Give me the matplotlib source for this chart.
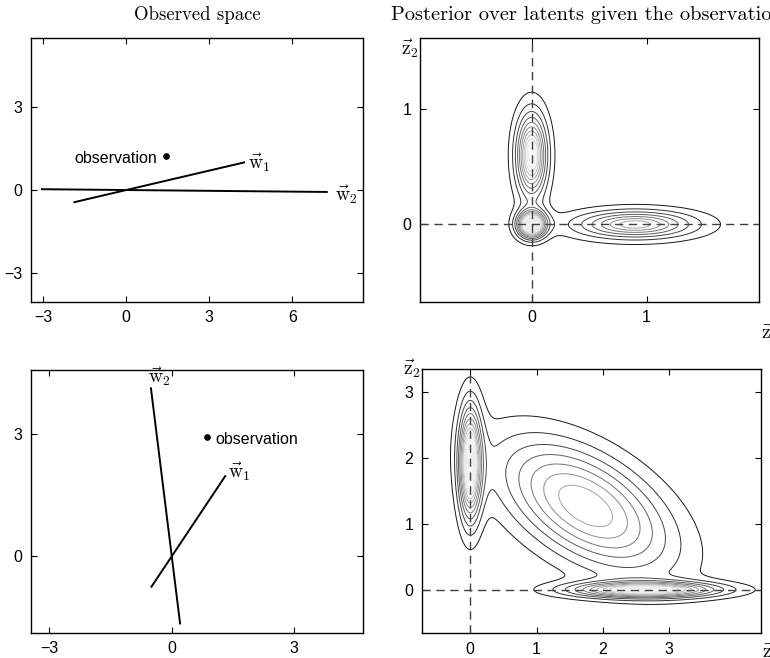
import numpy as np
import matplotlib
matplotlib.use('Agg')
from matplotlib import pyplot as plt

plt.rcParams['mathtext.fontset'] = 'cm'
plt.rcParams['font.family'] = ['Liberation Sans', 'DejaVu Sans']
plt.rcParams['axes.linewidth'] = 1.0

# observed space: observation point and the two basis vectors
obs_top = [1.43, 1.23]
w1_top = [4.26, 1.00]
w2_top = [7.25, -0.07]
tail_top = [0.44, 0.42]   # part of each line drawn behind the origin (fraction of w)

obs_bot = [0.87, 2.94]
w1_bot = [1.31, 1.97]
w2_bot = [-0.51, 4.13]
tail_bot = [0.38, 0.40]

# posterior over latents: bumps (centre, spread along/across, angle, peak in contour steps, shape)
top_means = [(0.0, 0.0), (0.0, 0.6), (0.9, 0.0)]
top_spread = [(0.095, 0.09), (0.115, 0.31), (0.47, 0.11)]
top_angle = [0, 0, 0]
top_peak = [18, 12, 8]
top_shape = [1.6, 1.6, 1.6]

bot_means = [(0.0, 1.91), (2.63, 0.0), (1.74, 1.27)]
bot_spread = [(0.14, 0.70), (0.92, 0.10), (1.38, 0.72)]
bot_angle = [0, 0, -32]
bot_peak = [14, 12, 7.8]
bot_shape = [1.6, 1.6, 2.0]


def posterior(zx, zy, means, spread, angle, peak, shape):
    dens = np.zeros_like(zx)
    for (mx, my), (sa, sb), ang, h, p in zip(means, spread, angle, peak, shape):
        t = np.deg2rad(ang)
        dx, dy = zx - mx, zy - my
        u = (dx * np.cos(t) + dy * np.sin(t)) / sa
        v = (-dx * np.sin(t) + dy * np.cos(t)) / sb
        dens += h * np.exp(-np.sqrt(u**2 + v**2) ** p)
    return dens


def style_axes(ax, xlim, ylim, xticks, yticks):
    ax.set_xlim(xlim)
    ax.set_ylim(ylim)
    ax.set_xticks(xticks)
    ax.set_yticks(yticks)
    ax.tick_params(direction='in', top=True, right=True, length=4, labelsize=11.5, pad=6)


def plot_observed(ax, obs, w1, w2, tail, xlim, ylim, xticks, yticks):
    for w, s in zip([w1, w2], tail):
        ax.plot([-s * w[0], w[0]], [-s * w[1], w[1]], color='black', lw=1.4)
    ax.plot(obs[0], obs[1], 'o', color='black', ms=3.8)
    style_axes(ax, xlim, ylim, xticks, yticks)


def plot_posterior(ax, means, spread, angle, peak, shape, xlim, ylim, xticks, yticks, cmax):
    zx, zy = np.meshgrid(np.linspace(xlim[0], xlim[1], 500), np.linspace(ylim[0], ylim[1], 500))
    dens = posterior(zx, zy, means, spread, angle, peak, shape)
    levels = np.arange(1, int(max(peak)) + 1)
    colors = [str(min(k / cmax, 1.0) * 0.92) for k in levels]
    ax.contour(zx, zy, dens, levels=levels, colors=colors, linewidths=0.7)
    ax.axhline(0, color='0.25', lw=1.0, ls=(0, (6, 4)), zorder=3)
    ax.axvline(0, color='0.25', lw=1.0, ls=(0, (6, 4)), zorder=3)
    style_axes(ax, xlim, ylim, xticks, yticks)


fig = plt.figure(figsize=(7.7, 6.58), dpi=100)
ax_tl = fig.add_axes([0.0403, 0.541, 0.4312, 0.4012])
ax_tr = fig.add_axes([0.5455, 0.5415, 0.4406, 0.4012])
ax_bl = fig.add_axes([0.0403, 0.0384, 0.4312, 0.3992])
ax_br = fig.add_axes([0.5477, 0.0375, 0.4403, 0.4012])

# top row
plot_observed(ax_tl, obs_top, w1_top, w2_top, tail_top, (-3.44, 8.56), (-4.06, 5.51), [-3, 0, 3, 6], [-3, 0, 3])
ax_tl.annotate('observation', obs_top, xytext=(-6, -2), textcoords='offset points',
               ha='right', va='center', fontsize=11.5)
ax_tl.annotate(r'$\vec{\mathrm{w}}_1$', w1_top, xytext=(3, 0), textcoords='offset points',
               ha='left', va='center', fontsize=14)
ax_tl.annotate(r'$\vec{\mathrm{w}}_2$', w2_top, xytext=(6, -2), textcoords='offset points',
               ha='left', va='center', fontsize=14)
fig.text(197 / 770, 1 - 15 / 658, 'Observed space', family='cmr10', fontsize=13.5, ha='center', va='center')

plot_posterior(ax_tr, top_means, top_spread, top_angle, top_peak, top_shape,
               (-0.97, 1.98), (-0.67, 1.62), [0, 1], [0, 1], cmax=10)
fig.text(391 / 770, 1 - 15 / 658, 'Posterior over latents given the observation', family='cmr10',
         fontsize=14.7, ha='left', va='center')
ax_tr.text(-0.005, 1.0, r'$\vec{\mathrm{z}}_2$', transform=ax_tr.transAxes, ha='right', va='top', fontsize=14)
ax_tr.text(1.005, -0.117, r'$\vec{\mathrm{z}}_1$', transform=ax_tr.transAxes, ha='left', va='center', fontsize=14)

# bottom row
plot_observed(ax_bl, obs_bot, w1_bot, w2_bot, tail_bot, (-3.45, 4.69), (-1.88, 4.58), [-3, 0, 3], [0, 3])
ax_bl.annotate('observation', obs_bot, xytext=(6, -2), textcoords='offset points',
               ha='left', va='center', fontsize=11.5)
ax_bl.annotate(r'$\vec{\mathrm{w}}_1$', w1_bot, xytext=(2, 3), textcoords='offset points',
               ha='left', va='center', fontsize=14)
ax_bl.annotate(r'$\vec{\mathrm{w}}_2$', w2_bot, xytext=(-2, 0), textcoords='offset points',
               ha='left', va='bottom', fontsize=14)

plot_posterior(ax_br, bot_means, bot_spread, bot_angle, bot_peak, bot_shape,
               (-0.73, 4.38), (-0.66, 3.34), [0, 1, 2, 3], [0, 1, 2, 3], cmax=10)
ax_br.text(-0.005, 1.046, r'$\vec{\mathrm{z}}_2$', transform=ax_br.transAxes, ha='right', va='top', fontsize=14)
ax_br.text(1.005, -0.068, r'$\vec{\mathrm{z}}_1$', transform=ax_br.transAxes, ha='left', va='center', fontsize=14)

fig.savefig('out.png', dpi=100)
